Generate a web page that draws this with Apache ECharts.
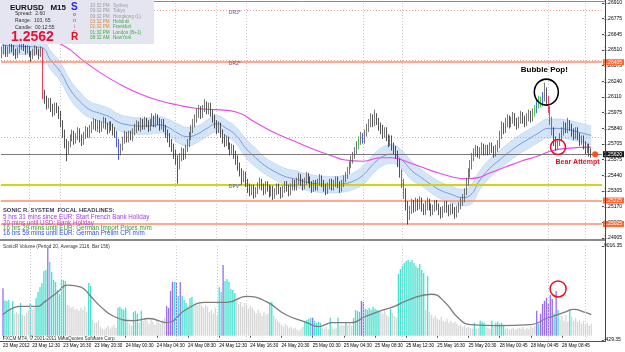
<!DOCTYPE html>
<html><head><meta charset="utf-8">
<script src="https://cdn.jsdelivr.net/npm/echarts@6/dist/echarts.min.js"></script>
<style>html,body{margin:0;padding:0;background:#fff}#c{width:625px;height:352px}</style>
</head><body><div id="c"></div>
<script>
// ---------------- DATA ----------------
const barCount = 308;
const timeLabels = ['23 May 2012','23 May 12:30','23 May 16:30','23 May 20:30','24 May 00:30','24 May 04:30','24 May 08:30','24 May 12:30','24 May 16:30','24 May 20:30','25 May 00:30','25 May 04:30','25 May 08:30','25 May 12:30','25 May 16:30','25 May 20:30','28 May 00:45','28 May 04:45','28 May 08:45'];
const timeLabelIdx = [0,15,31,47,63,79,95,111,127,143,159,175,191,207,223,239,255,271,287];
const priceTickLabels = ['1.24905','1.25035','1.25170','1.25305','1.25440','1.25575','1.25705','1.25840','1.25975','1.26110','1.26240','1.26375','1.26510','1.26645','1.26775','1.26910'];
const priceMin = 1.24905, priceMax = 1.26910;
const volumeMin = -429.35, volumeMax = 9016.35;

const opens = [
1.2647,1.2650,1.2653,1.2648,1.2651,1.2655,1.2652,1.2649,1.2646,1.2650,
1.2654,1.2657,1.2653,1.2650,1.2652,1.2648,1.2645,1.2649,1.2652,1.2650,
1.2647,1.2651,1.2614,1.2609,1.2604,1.2607,1.2602,1.2598,1.2603,1.2600,
1.2596,1.2588,1.2580,1.2572,1.2566,1.2571,1.2576,1.2579,1.2574,1.2577,
1.2581,1.2576,1.2573,1.2578,1.2582,1.2579,1.2583,1.2586,1.2589,1.2585,
1.2588,1.2584,1.2587,1.2590,1.2586,1.2583,1.2587,1.2585,1.2582,1.2580,
1.2572,1.2564,1.2568,1.2574,1.2578,1.2575,1.2579,1.2577,1.2581,1.2584,
1.2587,1.2585,1.2589,1.2586,1.2590,1.2588,1.2585,1.2589,1.2592,1.2588,
1.2593,1.2590,1.2586,1.2589,1.2584,1.2580,1.2577,1.2572,1.2568,1.2563,
1.2558,1.2553,1.2560,1.2564,1.2561,1.2567,1.2571,1.2578,1.2584,1.2588,
1.2593,1.2597,1.2600,1.2596,1.2601,1.2604,1.2599,1.2603,1.2597,1.2593,
1.2588,1.2583,1.2586,1.2580,1.2576,1.2572,1.2575,1.2569,1.2565,1.2568,
1.2562,1.2558,1.2552,1.2547,1.2541,1.2545,1.2538,1.2534,1.2530,1.2533,
1.2528,1.2531,1.2535,1.2538,1.2534,1.2531,1.2536,1.2533,1.2529,1.2532,
1.2527,1.2530,1.2534,1.2531,1.2528,1.2532,1.2536,1.2533,1.2530,1.2534,
1.2537,1.2535,1.2539,1.2542,1.2538,1.2535,1.2539,1.2543,1.2540,1.2536,
1.2533,1.2537,1.2534,1.2538,1.2541,1.2537,1.2534,1.2531,1.2535,1.2538,
1.2534,1.2537,1.2540,1.2536,1.2533,1.2537,1.2541,1.2544,1.2548,1.2553,
1.2557,1.2561,1.2565,1.2569,1.2573,1.2577,1.2574,1.2580,1.2584,1.2588,
1.2592,1.2589,1.2594,1.2590,1.2586,1.2583,1.2579,1.2582,1.2576,1.2572,
1.2575,1.2569,1.2566,1.2562,1.2555,1.2546,1.2538,1.2530,1.2518,1.2510,
1.2515,1.2520,1.2516,1.2521,1.2518,1.2522,1.2517,1.2514,1.2518,1.2521,
1.2517,1.2513,1.2516,1.2520,1.2517,1.2514,1.2511,1.2515,1.2519,1.2516,
1.2513,1.2517,1.2514,1.2511,1.2515,1.2518,1.2521,1.2524,1.2530,1.2538,
1.2546,1.2553,1.2559,1.2563,1.2566,1.2562,1.2565,1.2568,1.2564,1.2567,
1.2565,1.2569,1.2566,1.2563,1.2567,1.2570,1.2578,1.2586,1.2583,1.2589,
1.2592,1.2588,1.2591,1.2594,1.2590,1.2587,1.2591,1.2595,1.2592,1.2589,
1.2593,1.2596,1.2593,1.2597,1.2600,1.2604,1.2608,1.2606,1.2611,1.2616,
1.2609,1.2600,1.2591,1.2582,1.2574,1.2569,1.2572,1.2576,1.2581,1.2586,
1.2583,1.2588,1.2585,1.2581,1.2578,1.2582,1.2577,1.2573,1.2575,1.2570,
1.2566,1.2568,1.2564];
const closes = [
1.2650,1.2653,1.2648,1.2651,1.2655,1.2652,1.2649,1.2646,1.2650,1.2654,
1.2657,1.2653,1.2650,1.2652,1.2648,1.2645,1.2649,1.2652,1.2650,1.2647,
1.2651,1.2614,1.2609,1.2604,1.2607,1.2602,1.2598,1.2603,1.2600,1.2596,
1.2588,1.2580,1.2572,1.2566,1.2571,1.2576,1.2579,1.2574,1.2577,1.2581,
1.2576,1.2573,1.2578,1.2582,1.2579,1.2583,1.2586,1.2589,1.2585,1.2588,
1.2584,1.2587,1.2590,1.2586,1.2583,1.2587,1.2585,1.2582,1.2580,1.2572,
1.2564,1.2568,1.2574,1.2578,1.2575,1.2579,1.2577,1.2581,1.2584,1.2587,
1.2585,1.2589,1.2586,1.2590,1.2588,1.2585,1.2589,1.2592,1.2588,1.2593,
1.2590,1.2586,1.2589,1.2584,1.2580,1.2577,1.2572,1.2568,1.2563,1.2558,
1.2553,1.2560,1.2564,1.2561,1.2567,1.2571,1.2578,1.2584,1.2588,1.2593,
1.2597,1.2600,1.2596,1.2601,1.2604,1.2599,1.2603,1.2597,1.2593,1.2588,
1.2583,1.2586,1.2580,1.2576,1.2572,1.2575,1.2569,1.2565,1.2568,1.2562,
1.2558,1.2552,1.2547,1.2541,1.2545,1.2538,1.2534,1.2530,1.2533,1.2528,
1.2531,1.2535,1.2538,1.2534,1.2531,1.2536,1.2533,1.2529,1.2532,1.2527,
1.2530,1.2534,1.2531,1.2528,1.2532,1.2536,1.2533,1.2530,1.2534,1.2537,
1.2535,1.2539,1.2542,1.2538,1.2535,1.2539,1.2543,1.2540,1.2536,1.2533,
1.2537,1.2534,1.2538,1.2541,1.2537,1.2534,1.2531,1.2535,1.2538,1.2534,
1.2537,1.2540,1.2536,1.2533,1.2537,1.2541,1.2544,1.2548,1.2553,1.2557,
1.2561,1.2565,1.2569,1.2573,1.2577,1.2574,1.2580,1.2584,1.2588,1.2592,
1.2589,1.2594,1.2590,1.2586,1.2583,1.2579,1.2582,1.2576,1.2572,1.2575,
1.2569,1.2566,1.2562,1.2555,1.2546,1.2538,1.2530,1.2518,1.2510,1.2515,
1.2520,1.2516,1.2521,1.2518,1.2522,1.2517,1.2514,1.2518,1.2521,1.2517,
1.2513,1.2516,1.2520,1.2517,1.2514,1.2511,1.2515,1.2519,1.2516,1.2513,
1.2517,1.2514,1.2511,1.2515,1.2518,1.2521,1.2524,1.2530,1.2538,1.2546,
1.2553,1.2559,1.2563,1.2566,1.2562,1.2565,1.2568,1.2564,1.2567,1.2565,
1.2569,1.2566,1.2563,1.2567,1.2570,1.2578,1.2586,1.2583,1.2589,1.2592,
1.2588,1.2591,1.2594,1.2590,1.2587,1.2591,1.2595,1.2592,1.2589,1.2593,
1.2596,1.2593,1.2597,1.2600,1.2604,1.2608,1.2606,1.2611,1.2616,1.2609,
1.2600,1.2591,1.2582,1.2574,1.2569,1.2572,1.2576,1.2581,1.2586,1.2583,
1.2588,1.2585,1.2581,1.2578,1.2582,1.2577,1.2573,1.2575,1.2570,1.2566,
1.2568,1.2564,1.2562];
const highs = [
1.2654,1.2656,1.2655,1.2654,1.2658,1.2657,1.2655,1.2652,1.2653,1.2657,
1.2660,1.2659,1.2655,1.2655,1.2654,1.2650,1.2652,1.2655,1.2654,1.2652,
1.2654,1.2653,1.2617,1.2612,1.2610,1.2610,1.2605,1.2606,1.2606,1.2603,
1.2599,1.2591,1.2583,1.2575,1.2573,1.2579,1.2583,1.2582,1.2580,1.2585,
1.2584,1.2579,1.2581,1.2586,1.2585,1.2587,1.2590,1.2593,1.2592,1.2591,
1.2591,1.2590,1.2594,1.2593,1.2589,1.2590,1.2590,1.2588,1.2585,1.2582,
1.2575,1.2571,1.2577,1.2582,1.2581,1.2582,1.2582,1.2584,1.2588,1.2591,
1.2590,1.2593,1.2592,1.2594,1.2593,1.2591,1.2592,1.2597,1.2595,1.2597,
1.2596,1.2593,1.2592,1.2592,1.2587,1.2583,1.2580,1.2575,1.2571,1.2566,
1.2561,1.2563,1.2568,1.2567,1.2570,1.2575,1.2581,1.2587,1.2592,1.2596,
1.2601,1.2604,1.2603,1.2604,1.2609,1.2607,1.2606,1.2606,1.2600,1.2596,
1.2591,1.2590,1.2589,1.2583,1.2579,1.2578,1.2577,1.2572,1.2571,1.2570,
1.2565,1.2561,1.2555,1.2550,1.2548,1.2547,1.2541,1.2537,1.2536,1.2536,
1.2534,1.2538,1.2542,1.2541,1.2537,1.2539,1.2539,1.2536,1.2535,1.2535,
1.2533,1.2537,1.2537,1.2534,1.2535,1.2539,1.2539,1.2536,1.2537,1.2541,
1.2540,1.2542,1.2546,1.2545,1.2541,1.2542,1.2547,1.2546,1.2543,1.2539,
1.2540,1.2540,1.2541,1.2545,1.2544,1.2540,1.2537,1.2538,1.2541,1.2541,
1.2540,1.2543,1.2543,1.2539,1.2540,1.2544,1.2547,1.2551,1.2556,1.2561,
1.2564,1.2568,1.2573,1.2577,1.2581,1.2580,1.2583,1.2588,1.2592,1.2597,
1.2596,1.2600,1.2597,1.2593,1.2589,1.2587,1.2585,1.2585,1.2579,1.2578,
1.2578,1.2572,1.2569,1.2565,1.2558,1.2549,1.2541,1.2533,1.2522,1.2518,
1.2524,1.2523,1.2525,1.2524,1.2526,1.2525,1.2520,1.2522,1.2525,1.2524,
1.2520,1.2519,1.2523,1.2523,1.2520,1.2517,1.2518,1.2522,1.2522,1.2519,
1.2520,1.2520,1.2517,1.2518,1.2521,1.2525,1.2528,1.2533,1.2542,1.2550,
1.2557,1.2563,1.2567,1.2570,1.2569,1.2568,1.2572,1.2571,1.2570,1.2570,
1.2572,1.2572,1.2569,1.2570,1.2574,1.2582,1.2590,1.2589,1.2593,1.2596,
1.2595,1.2594,1.2598,1.2597,1.2593,1.2594,1.2599,1.2598,1.2595,1.2597,
1.2600,1.2599,1.2601,1.2604,1.2608,1.2612,1.2611,1.2615,1.2623,1.2619,
1.2612,1.2603,1.2594,1.2585,1.2577,1.2575,1.2580,1.2585,1.2590,1.2589,
1.2593,1.2591,1.2588,1.2584,1.2585,1.2585,1.2580,1.2578,1.2578,1.2573,
1.2571,1.2571,1.2567];
const lows = [
1.2644,1.2647,1.2645,1.2645,1.2648,1.2649,1.2646,1.2643,1.2644,1.2648,
1.2651,1.2650,1.2647,1.2648,1.2645,1.2641,1.2643,1.2646,1.2647,1.2643,
1.2645,1.2609,1.2605,1.2600,1.2601,1.2598,1.2594,1.2595,1.2597,1.2592,
1.2585,1.2576,1.2567,1.2556,1.2562,1.2568,1.2573,1.2570,1.2571,1.2574,
1.2572,1.2569,1.2570,1.2575,1.2576,1.2576,1.2580,1.2583,1.2582,1.2581,
1.2580,1.2581,1.2584,1.2583,1.2579,1.2580,1.2582,1.2578,1.2576,1.2568,
1.2557,1.2561,1.2565,1.2571,1.2572,1.2572,1.2574,1.2573,1.2578,1.2580,
1.2582,1.2581,1.2583,1.2583,1.2585,1.2581,1.2582,1.2586,1.2585,1.2585,
1.2587,1.2582,1.2583,1.2581,1.2576,1.2572,1.2568,1.2564,1.2558,1.2553,
1.2537,1.2549,1.2556,1.2557,1.2558,1.2564,1.2568,1.2574,1.2580,1.2585,
1.2589,1.2593,1.2592,1.2593,1.2598,1.2596,1.2596,1.2594,1.2589,1.2584,
1.2579,1.2580,1.2576,1.2571,1.2568,1.2569,1.2566,1.2561,1.2562,1.2558,
1.2553,1.2548,1.2543,1.2536,1.2538,1.2534,1.2529,1.2526,1.2527,1.2524,
1.2525,1.2528,1.2532,1.2531,1.2527,1.2528,1.2530,1.2525,1.2526,1.2523,
1.2524,1.2527,1.2528,1.2524,1.2525,1.2529,1.2530,1.2526,1.2527,1.2531,
1.2531,1.2531,1.2536,1.2535,1.2531,1.2532,1.2536,1.2537,1.2533,1.2529,
1.2530,1.2531,1.2531,1.2535,1.2534,1.2530,1.2527,1.2528,1.2532,1.2531,
1.2531,1.2534,1.2533,1.2529,1.2530,1.2534,1.2538,1.2541,1.2545,1.2550,
1.2554,1.2558,1.2562,1.2566,1.2570,1.2571,1.2571,1.2577,1.2581,1.2585,
1.2585,1.2586,1.2587,1.2582,1.2579,1.2575,1.2576,1.2573,1.2568,1.2569,
1.2565,1.2562,1.2558,1.2551,1.2542,1.2533,1.2524,1.2514,1.2502,1.2506,
1.2511,1.2512,1.2513,1.2514,1.2515,1.2513,1.2510,1.2510,1.2514,1.2514,
1.2509,1.2510,1.2513,1.2514,1.2510,1.2507,1.2508,1.2512,1.2512,1.2509,
1.2510,1.2511,1.2507,1.2508,1.2512,1.2515,1.2518,1.2521,1.2527,1.2535,
1.2542,1.2549,1.2556,1.2560,1.2559,1.2558,1.2562,1.2561,1.2561,1.2561,
1.2562,1.2563,1.2559,1.2560,1.2564,1.2567,1.2575,1.2579,1.2580,1.2585,
1.2584,1.2585,1.2588,1.2586,1.2583,1.2584,1.2588,1.2588,1.2585,1.2586,
1.2590,1.2589,1.2590,1.2594,1.2597,1.2601,1.2602,1.2603,1.2607,1.2605,
1.2597,1.2587,1.2578,1.2569,1.2565,1.2566,1.2569,1.2573,1.2578,1.2580,
1.2580,1.2582,1.2577,1.2574,1.2575,1.2574,1.2569,1.2570,1.2566,1.2562,
1.2563,1.2560,1.2559];
const coloredCandles = [[21,'#e8102a'],[59,'#2030f0'],[60,'#2030f0'],[183,'#20b020'],[185,'#2030f0'],[205,'#e8102a'],[206,'#e8102a'],[273,'#20c020'],[274,'#2040ff'],[275,'#20c020'],[276,'#20c020'],[277,'#2040ff'],[280,'#ff1040'],[281,'#ff1040'],[282,'#ff1040']];

const dragonMid = [[0,1.2655],[10,1.2654],[20,1.2653],[25,1.2642],[30,1.2632],[35,1.2617],[40,1.2607],[45,1.2600],[50,1.2597],[55,1.2594],[60,1.2589],[65,1.2587],[70,1.2586],[75,1.2586],[80,1.2587],[85,1.2585],[90,1.2580],[95,1.2577],[100,1.2579],[105,1.2584],[110,1.2588],[115,1.2584],[120,1.2578],[125,1.2567],[130,1.2559],[135,1.2552],[140,1.2547],[145,1.2543],[150,1.2541],[160,1.2537],[170,1.2536],[176,1.2537],[180,1.2539],[185,1.2544],[190,1.2553],[195,1.2560],[200,1.2562],[205,1.2557],[210,1.2548],[215,1.2542],[220,1.2536],[225,1.2531],[230,1.2528],[236,1.2525],[240,1.2527],[245,1.2540],[250,1.2550],[255,1.2557],[260,1.2564],[265,1.2570],[270,1.2575],[275,1.2580],[280,1.2584],[285,1.2584],[290,1.2583],[295,1.2581],[302,1.2578]];
const dragonHigh = [[0,1.2662],[10,1.2661],[20,1.2660],[25,1.2650],[30,1.2640],[35,1.2625],[40,1.2615],[45,1.2607],[50,1.2604],[55,1.2601],[60,1.2596],[65,1.2594],[70,1.2593],[75,1.2593],[80,1.2594],[85,1.2592],[90,1.2588],[95,1.2585],[100,1.2586],[105,1.2591],[110,1.2595],[115,1.2591],[120,1.2585],[125,1.2575],[130,1.2567],[135,1.2559],[140,1.2554],[145,1.2550],[150,1.2548],[160,1.2544],[170,1.2543],[176,1.2544],[180,1.2546],[185,1.2552],[190,1.2561],[195,1.2568],[200,1.2570],[205,1.2565],[210,1.2556],[215,1.2549],[220,1.2543],[225,1.2538],[230,1.2535],[236,1.2532],[240,1.2535],[245,1.2548],[250,1.2558],[255,1.2565],[260,1.2572],[265,1.2578],[270,1.2583],[275,1.2588],[280,1.2592],[285,1.2592],[290,1.2591],[295,1.2589],[302,1.2586]];
const dragonLow = [[0,1.2648],[10,1.2647],[20,1.2646],[25,1.2634],[30,1.2624],[35,1.2609],[40,1.2599],[45,1.2593],[50,1.2590],[55,1.2587],[60,1.2582],[65,1.2580],[70,1.2579],[75,1.2579],[80,1.2580],[85,1.2578],[90,1.2572],[95,1.2569],[100,1.2572],[105,1.2577],[110,1.2581],[115,1.2577],[120,1.2571],[125,1.2559],[130,1.2551],[135,1.2545],[140,1.2540],[145,1.2536],[150,1.2534],[160,1.2530],[170,1.2529],[176,1.2530],[180,1.2532],[185,1.2536],[190,1.2545],[195,1.2552],[200,1.2554],[205,1.2549],[210,1.2540],[215,1.2535],[220,1.2529],[225,1.2524],[230,1.2521],[236,1.2518],[240,1.2519],[245,1.2532],[250,1.2542],[255,1.2549],[260,1.2556],[265,1.2562],[270,1.2567],[275,1.2572],[280,1.2576],[285,1.2576],[290,1.2575],[295,1.2573],[302,1.2570]];
const slowMA = [[0,1.2668],[10,1.2665],[20,1.2662],[25,1.2659],[30,1.2656],[35,1.2651],[40,1.2644],[50,1.2632],[60,1.2622],[70,1.2614],[80,1.2608],[90,1.2604],[100,1.2601],[110,1.2600],[120,1.2598],[130,1.2589],[140,1.2580],[150,1.2573],[160,1.2566],[170,1.2560],[176,1.2557],[185,1.2556],[194,1.2559],[200,1.2559],[210,1.2554],[220,1.2548],[230,1.2543],[238,1.2541],[244,1.2542],[250,1.2546],[258,1.2551],[266,1.2556],[274,1.2560],[282,1.2565],[290,1.2567],[302,1.2568]];

const volumes = [
4770,3550,3500,3600,2600,3500,2200,2400,2200,3300,
2100,2000,2300,2500,3300,2600,2800,3800,4400,4900,
5300,6500,6600,8840,7400,6400,5600,5400,4600,4200,
5600,5600,5500,3100,3000,2800,2900,2600,2700,2500,
2800,2600,2900,2400,5300,5000,1600,1300,1300,1500,
900,700,600,800,1000,700,900,1100,800,2800,
2900,2700,2600,2800,1400,1200,1000,2400,2500,2200,
1300,2500,1500,1700,1500,1200,1600,1400,1100,1500,
1300,1200,1600,1800,3000,2800,4500,5400,5400,5400,
4000,5400,4000,3600,3300,2900,3800,3900,3000,3200,
3100,3300,3000,2800,3100,2900,2400,2600,2200,2800,
2000,4900,4400,7100,5500,5700,5400,4700,4600,4300,
3500,3200,3400,2900,3300,3100,2700,3000,2800,2500,
2200,2600,2300,2000,2400,2100,2200,3400,3400,2000,
1700,1500,1300,1100,900,1200,1000,800,900,700,
800,600,500,700,900,1500,1600,1700,1800,1800,
1500,1300,1400,1300,800,700,900,600,1800,900,
700,800,1800,1000,1100,1000,1300,1100,1200,1000,
1800,2600,2500,2400,3500,3400,2700,2600,2800,2600,
2900,2700,2600,2500,2400,2200,2600,2100,1900,2700,
2300,2000,1800,6200,6700,7000,7300,7500,7600,7400,
7600,7300,7000,6800,7200,6600,6300,2600,6000,2400,
2100,1800,2000,1700,1600,1900,1500,1400,1700,1300,
1500,1300,1400,1200,1000,1100,900,1000,800,900,
800,700,1300,700,800,1500,1400,1300,900,800,
700,1500,900,1300,1400,1200,1300,1100,700,800,
600,700,800,600,700,800,700,900,600,800,
700,900,800,1000,2500,1200,2200,3200,3500,3800,
3200,4100,3700,2200,4500,2600,1600,2000,1500,2100,
1400,2600,1900,1500,1800,1400,1600,1200,1500,1100,
1300,1000,1200];
// c = turquoise, g = grey, p = purple
const volumeCodes = ('pcccgcgggc'+'ggggcggccc'+'cccpcccccc'+'cccggggggg'+'ggggccgggg'+'gggggggggc'+'ccccgggccc'+'gcgggggggg'+'ggggppppcp'+'cpccccccgg'+
'gggggggggg'+'gccpcccccc'+'gggggggggg'+'gggggggccg'+'gggggggggg'+'gggggccccp'+'ccccggggcg'+'ggcgggcggg'+'ccccppcccc'+'ccccgggggc'+
'gggccccccc'+'cccccccgcg'+'gggggggggg'+'gggggggggg'+'ggcggcccgg'+'gcgcccccgg'+'gggggggggg'+'ggggpcpppp'+'pppcpcgggg'+'gcgggggggg'+'ggg').split('');
const volumeMA = [[0,2130],[9,2950],[18,2950],[21,3350],[28,4370],[33,5080],[40,4880],[45,3960],[50,2950],[57,1930],[67,1520],[75,1730],[84,1320],[94,2640],[104,3350],[115,3350],[125,3960],[135,3450],[145,2130],[156,1320],[162,910],[169,1320],[179,1320],[186,1930],[193,2440],[201,2950],[209,3660],[220,4170],[227,3350],[233,1930],[240,1120],[254,1020],[271,1120],[279,1730],[288,2340],[293,2640],[299,2340],[302,2130]];

const sessionLines = [14,30,89,110,125,185,205,280,299];
const levelDR3 = 1.26848, levelDR2Dot = 1.26422, levelDR2 = 1.26405, levelMidDot = 1.25766;
const currentPrice = 1.25620, levelDPV = 1.25361, levelS1 = 1.25225, levelS2 = 1.25025;

// ---------------- CHART ----------------
const FONT = 'Liberation Sans';
const cats = Array.from({length: barCount}, (_, i) => String(i));
const priceStep = (priceMax - priceMin) / 15;
const colorMap = {};
coloredCandles.forEach(([i, c]) => colorMap[i] = c);
const candleData = closes.map((c, i) => {
  const item = {value: [opens[i], c, lows[i], highs[i]]};
  if (colorMap[i]) { const k = colorMap[i]; item.itemStyle = {color: k, color0: k, borderColor: k, borderColor0: k}; }
  return item;
});
const volColor = {c: '#45e0cf', g: '#d6d6d6', p: '#9a6cf0'};
const volData = volumes.map((v, i) => ({value: v, itemStyle: {color: volColor[volumeCodes[i]]}}));
const bandDiff = dragonHigh.map((p, k) => [p[0], +(p[1] - dragonLow[k][1]).toFixed(5)]);

const hiLabel = (bg) => ({show: true, position: 'end', distance: 1, formatter: (p) => Number(p.value).toFixed(5), backgroundColor: bg, color: '#fff', fontSize: 5, fontFamily: FONT, padding: [1, 2, 0, 1]});
const dotStyle = {color: '#f4a08c', width: 1, type: [1, 2]};
const solidOrange = {color: '#ff8c6e', width: 1.5, type: 'solid'};

const txt = (x, y, text, fill, font, extra) => Object.assign({type: 'text', x, y, z: 120, style: {text, fill, font: font || ('5px ' + FONT), verticalAlign: 'middle'}}, extra || {});

const zones = [['10:32 PM','Sydney','#9a9aa2','#9a9aa2'],['09:32 PM','Tokyo','#9a9aa2','#9a9aa2'],['09:32 PM','Hongkong (L)','#9a9aa2','#9a9aa2'],['03:32 PM','Helsinki','#e08838','#3cae3c'],['02:32 PM','Frankfurt','#e08838','#3cae3c'],['01:32 PM','London (B+1)','#3cae3c','#3cae3c'],['08:32 AM','NewYork','#3cae3c','#3cae3c']];
const graphics = [
  {type: 'rect', z: 110, shape: {x: 0, y: 0, width: 154, height: 44}, style: {fill: '#e5e5f1'}},
  txt(10, 7.5, 'EURUSD   M15', '#111', 'bold 8px ' + FONT),
  txt(15, 13.5, 'Spread:  2.60', '#333'),
  txt(15, 20.5, 'Range:  103, 65', '#333'),
  txt(15, 27.5, 'Candle:  00:12:55', '#333'),
  txt(11, 37, '1.2562', '#e8103a', 'bold 14px ' + FONT),
  txt(71, 7, 'S', '#2828d8', 'bold 10px ' + FONT),
  txt(73, 15, 'o', '#6c5ce0', 'bold 5px ' + FONT),
  txt(73, 21, 'n', '#9a70e0', 'bold 5px ' + FONT),
  txt(74, 27, 'i', '#d070c8', 'bold 5px ' + FONT),
  txt(73, 32, 'c', '#e0609a', 'bold 5px ' + FONT),
  txt(71, 37.5, 'R', '#e01020', 'bold 10px ' + FONT),
  {type: 'line', z: 105, shape: {x1: 0, y1: 1.5, x2: 605, y2: 1.5}, style: {stroke: '#8a8a8a', lineWidth: 1}},
  {type: 'line', z: 105, shape: {x1: 0, y1: 240, x2: 605, y2: 240}, style: {stroke: '#8a8a8a', lineWidth: 2}},
  {type: 'line', z: 105, shape: {x1: 0, y1: 341.5, x2: 605, y2: 341.5}, style: {stroke: '#555', lineWidth: 1}},
  {type: 'line', z: 105, shape: {x1: 605.5, y1: 0, x2: 605.5, y2: 342}, style: {stroke: '#444', lineWidth: 1}},
  txt(3, 210.7, 'SONIC R. SYSTEM  FOCAL HEADLINES:', '#3c3c5a', 'bold 5.8px ' + FONT),
  txt(3, 217.7, '5 hrs 31 mins since EUR: Start French Bank Holiday', '#a040e0', '6.3px ' + FONT),
  txt(3, 222.9, '20 mins until USD: Bank Holiday', '#c040c0', '6.3px ' + FONT),
  txt(3, 228.7, '16 hrs 29 mins until EUR: German Import Prices m/m', '#2fa02f', '6.3px ' + FONT),
  txt(3, 233.7, '16 hrs 59 mins until EUR: German Prelim CPI m/m', '#3050e0', '6.3px ' + FONT),
  txt(3, 246.5, 'SonicR Volume (Period 20, Average 2116, Bar 156)', '#333', '4.7px ' + FONT),
  txt(3, 338.5, 'FXCM MT4, \u00a9 2001-2011 MetaQuotes Software Corp.', '#333', '4.7px ' + FONT)
];
zones.forEach((z, k) => {
  const y = 5.7 + k * 5.35;
  graphics.push(txt(90, y, z[0], z[2], '4.6px ' + FONT));
  graphics.push(txt(113, y, z[1], z[3], '4.6px ' + FONT));
});

const chart = echarts.init(document.getElementById('c'));
chart.setOption({
  animation: false,
  backgroundColor: '#ffffff',
  textStyle: {fontFamily: FONT},
  grid: [
    {left: 1, right: 20, top: 3, height: 235},
    {left: 1, right: 20, top: 246, height: 94}
  ],
  xAxis: [
    {type: 'category', gridIndex: 0, data: cats, boundaryGap: true, show: false},
    {type: 'category', gridIndex: 1, data: cats, boundaryGap: true,
     axisLine: {show: false},
     axisTick: {show: true, interval: (i) => timeLabelIdx.includes(i), length: 2, lineStyle: {color: '#555'}, alignWithLabel: true},
     axisLabel: {interval: (i) => timeLabelIdx.includes(i), formatter: (v, i) => timeLabels[timeLabelIdx.indexOf(Number(v))], align: 'left', fontSize: 4.6, color: '#000', margin: 3}}
  ],
  yAxis: [
    {type: 'value', gridIndex: 0, position: 'right', min: priceMin, max: priceMax, interval: priceStep,
     splitLine: {show: false}, axisLine: {show: false}, axisTick: {show: true, length: 2, lineStyle: {color: '#444'}},
     axisLabel: {fontSize: 5, color: '#000', margin: 2, formatter: (v) => priceTickLabels[Math.round((v - priceMin) / priceStep)] || ''}},
    {type: 'value', gridIndex: 1, position: 'right', min: volumeMin, max: volumeMax, interval: volumeMax - volumeMin,
     splitLine: {show: false}, axisLine: {show: false}, axisTick: {show: true, length: 2, lineStyle: {color: '#444'}},
     axisLabel: {fontSize: 5, color: '#000', margin: 2, showMaxLabel: true, showMinLabel: true, formatter: (v) => v.toFixed(2)}}
  ],
  graphic: graphics,
  series: [
    {type: 'line', xAxisIndex: 0, yAxisIndex: 0, data: dragonLow, stack: 'dragon', smooth: true, symbol: 'none', z: 1,
     lineStyle: {color: '#b4cff0', width: 0.6}},
    {type: 'line', xAxisIndex: 0, yAxisIndex: 0, data: bandDiff, stack: 'dragon', smooth: true, symbol: 'none', z: 1,
     lineStyle: {color: '#b4cff0', width: 0.6}, areaStyle: {color: '#cfe2f6', opacity: 0.9}},
    {type: 'line', xAxisIndex: 0, yAxisIndex: 0, data: dragonMid, smooth: true, symbol: 'none', z: 2,
     lineStyle: {color: '#7d98e2', width: 1}},
    {type: 'line', xAxisIndex: 0, yAxisIndex: 0, data: slowMA, smooth: true, symbol: 'none', z: 2,
     lineStyle: {color: '#ea46ea', width: 1.1}},
    {type: 'candlestick', xAxisIndex: 0, yAxisIndex: 0, data: candleData, barWidth: 1.2, z: 5,
     itemStyle: {color: '#555555', color0: '#2a2a2a', borderColor: '#555555', borderColor0: '#2a2a2a', borderWidth: 0.8},
     markLine: {silent: true, symbol: ['none', 'none'], precision: 5, label: {show: false}, z: 3,
       data: [
         {yAxis: levelDR3, lineStyle: dotStyle},
         {yAxis: levelDR2Dot, lineStyle: dotStyle},
         {yAxis: levelDR2, lineStyle: solidOrange, label: hiLabel('#ff6634')},
         {yAxis: levelMidDot, lineStyle: dotStyle},
         {yAxis: currentPrice, lineStyle: {color: '#7a7a7a', width: 1, type: 'solid'}, label: hiLabel('#1c1c1c')},
         {yAxis: levelDPV, lineStyle: {color: '#d2d218', width: 2, type: 'solid'}},
         {yAxis: levelS1, lineStyle: solidOrange, label: hiLabel('#ff6634')},
         {yAxis: levelS2, lineStyle: solidOrange, label: hiLabel('#ff6634')}
       ].concat(sessionLines.map((i) => ({xAxis: i, lineStyle: {color: '#cfc6dc', width: 1, type: [1, 2]}})))
     },
     markPoint: {silent: true, z: 8,
       data: [
         {coord: [279, 1.2615], symbol: 'circle', symbolSize: [24, 26], itemStyle: {color: 'rgba(0,0,0,0)', borderColor: '#000', borderWidth: 1.6}, label: {show: false}},
         {coord: [278, 1.26337], symbol: 'circle', symbolSize: 1, itemStyle: {color: 'rgba(0,0,0,0)'}, label: {show: true, position: 'inside', formatter: 'Bubble Pop!', fontWeight: 'bold', fontSize: 8, color: '#000'}},
         {coord: [285, 1.25681], symbol: 'circle', symbolSize: 15, itemStyle: {color: 'rgba(0,0,0,0)', borderColor: '#e81020', borderWidth: 1.5}, label: {show: false}},
         {coord: [295, 1.25553], symbol: 'circle', symbolSize: 1, itemStyle: {color: 'rgba(0,0,0,0)'}, label: {show: true, position: 'inside', formatter: 'Bear Attempt', fontWeight: 'bold', fontSize: 7, color: '#e81020'}},
         {coord: [304, currentPrice], symbol: 'circle', symbolSize: 6, itemStyle: {color: '#ff5020'}, label: {show: false}},
         {coord: [116, 1.26825], symbol: 'circle', symbolSize: 1, itemStyle: {color: 'rgba(0,0,0,0)'}, label: {show: true, position: 'right', distance: 0, formatter: 'DR3*', fontSize: 5, color: '#5050a0'}},
         {coord: [116, 1.26392], symbol: 'circle', symbolSize: 1, itemStyle: {color: 'rgba(0,0,0,0)'}, label: {show: true, position: 'right', distance: 0, formatter: 'DR2*', fontSize: 5, color: '#5050a0'}},
         {coord: [116, 1.25340], symbol: 'circle', symbolSize: 1, itemStyle: {color: 'rgba(0,0,0,0)'}, label: {show: true, position: 'right', distance: 0, formatter: 'DPV*', fontSize: 5, color: '#5050a0'}}
       ]}
    },
    {type: 'bar', xAxisIndex: 1, yAxisIndex: 1, data: volData, barWidth: 1.3, z: 2,
     markLine: {silent: true, symbol: ['none', 'none'], label: {show: false},
       data: sessionLines.map((i) => ({xAxis: i, lineStyle: {color: '#cfc6dc', width: 1, type: [1, 2]}}))},
     markPoint: {silent: true, data: [
       {coord: [285, 4700], symbol: 'circle', symbolSize: 16, itemStyle: {color: 'rgba(0,0,0,0)', borderColor: '#e81020', borderWidth: 1.5}, label: {show: false}}
     ]}},
    {type: 'line', xAxisIndex: 1, yAxisIndex: 1, data: volumeMA, smooth: true, symbol: 'none', z: 4,
     lineStyle: {color: '#7c7c7c', width: 1.3}}
  ]
});
</script>
</body></html>
